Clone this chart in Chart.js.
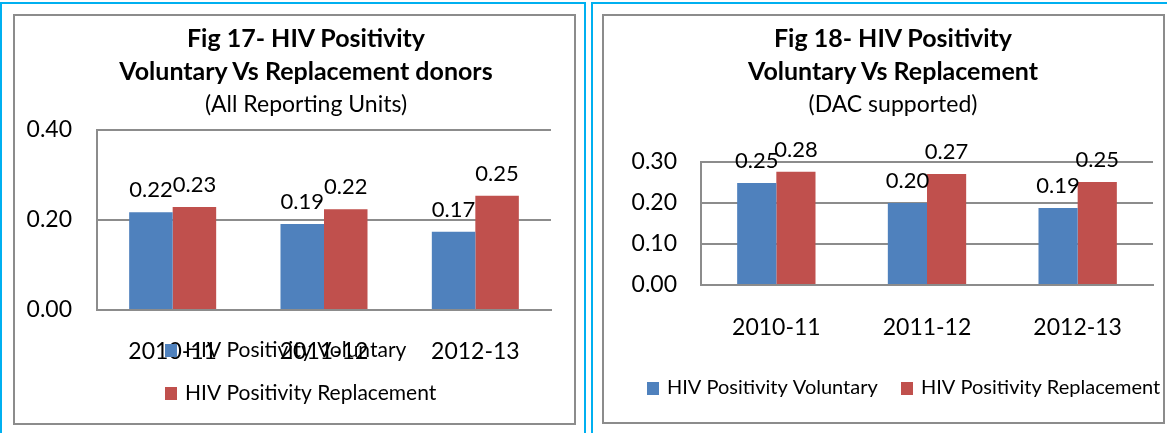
<!DOCTYPE html>
<html>
<head>
<meta charset="utf-8">
<script src="https://cdn.jsdelivr.net/npm/chart.js@4.4.1/dist/chart.umd.min.js"></script>
<style>
  body { margin: 0; width: 1167px; height: 433px; overflow: hidden; background: #fff; position: relative;
         font-family: Lato, "Open Sans", sans-serif; color: #000; }
  .outer { position: absolute; top: 2px; height: 440px; border: 2px solid #00b0f0; }
  .inner { position: absolute; top: 14px; border: 2px solid #8c8c8c; }
  .inner canvas { display: block; }
  /* Excel put the titles a little right of the box centre, so they are laid out here */
  .title { position: absolute; top: 21px; width: 420px; text-align: center;
           font-size: 25px; font-weight: bold; line-height: 33px; white-space: nowrap; }
  .title .sub { font-size: 23px; font-weight: normal; }
</style>
</head>
<body>
<div class="outer" style="left:0;width:582px"></div>
<div class="outer" style="left:591px;width:600px"></div>
<div class="inner" style="left:13px;width:559px;height:407px"><canvas id="fig17" width="559" height="407"></canvas></div>
<div class="inner" style="left:602px;width:559px;height:406px"><canvas id="fig18" width="559" height="406"></canvas></div>

<div class="title" style="left:96px">Fig 17- HIV Positivity<br>Voluntary Vs Replacement donors<div class="sub">(All Reporting Units)</div></div>
<div class="title" style="left:683px">Fig 18- HIV Positivity<br>Voluntary Vs Replacement<div class="sub">(DAC supported)</div></div>

<script>
// Data
const years = ['2010-11', '2011-12', '2012-13'];
const seriesNames = ['HIV Positivity Voluntary', 'HIV Positivity Replacement'];

// Fig 17 - all reporting units
const allVoluntary = [0.217, 0.191, 0.174];
const allReplacement = [0.229, 0.224, 0.254];

// Fig 18 - DAC supported
const dacVoluntary = [0.249, 0.200, 0.188];
const dacReplacement = [0.276, 0.271, 0.251];

const FONT = 'Lato, "Open Sans", sans-serif';

// Plugin: value written above every bar
const barValueLabels = {
  id: 'barValueLabels',
  afterDatasetsDraw(chart, args, opts) {
    const ctx = chart.ctx;
    ctx.save();
    ctx.font = opts.font;
    ctx.fillStyle = '#000';
    ctx.textAlign = 'center';
    ctx.textBaseline = 'middle';
    chart.data.datasets.forEach((ds, i) => {
      chart.getDatasetMeta(i).data.forEach((bar, j) => {
        ctx.fillText(ds.data[j].toFixed(2), bar.x, bar.y - opts.offset);
      });
    });
    ctx.restore();
  }
};

// Plugin: Excel style legend with square swatches at fixed spots
const boxLegend = {
  id: 'boxLegend',
  afterDraw(chart, args, opts) {
    const ctx = chart.ctx;
    ctx.save();
    ctx.font = opts.font;
    ctx.textAlign = 'left';
    ctx.textBaseline = 'middle';
    chart.data.datasets.forEach((ds, i) => {
      const pos = opts.items[i];
      ctx.fillStyle = ds.backgroundColor;
      ctx.fillRect(pos.x, pos.y - 6, 12, 13);
      ctx.fillStyle = '#000';
      ctx.fillText(ds.label, pos.x + opts.gap, pos.y);
    });
    ctx.restore();
  }
};

function makeChart(id, voluntary, replacement, yMax, yStep, cfg) {
  const tickFont = { family: FONT, size: 23 };
  return new Chart(document.getElementById(id), {
    type: 'bar',
    data: {
      labels: years,
      datasets: [
        { label: seriesNames[0], data: voluntary, backgroundColor: '#4f81bd',
          categoryPercentage: cfg.groupWidth, barPercentage: 1 },
        { label: seriesNames[1], data: replacement, backgroundColor: '#c0504d',
          categoryPercentage: cfg.groupWidth, barPercentage: 1 }
      ]
    },
    plugins: [barValueLabels, boxLegend],
    options: {
      responsive: false,
      animation: false,
      devicePixelRatio: 1,
      layout: { padding: { left: 0, top: cfg.top, right: cfg.right, bottom: cfg.bottom } },
      plugins: {
        legend: { display: false },
        tooltip: { enabled: false },
        barValueLabels: { font: '22px ' + FONT, offset: 22 },
        boxLegend: { font: cfg.legendSize + 'px ' + FONT, gap: 20, items: cfg.legend }
      },
      scales: {
        x: {
          grid: { display: false, drawTicks: false },
          border: { display: true, color: '#8c8c8c', width: 2 },
          ticks: { color: '#000', font: tickFont, padding: cfg.xPad },
          afterFit: s => { s.height = 60; }
        },
        y: {
          min: 0,
          max: yMax,
          grid: { color: '#8c8c8c', lineWidth: 2, drawTicks: false },
          border: { display: true, color: '#8c8c8c', width: 2 },
          ticks: {
            stepSize: yStep,
            color: '#000',
            font: tickFont,
            padding: cfg.yPad,
            callback: v => v.toFixed(2)
          },
          afterFit: s => { s.width = cfg.yWidth; }
        }
      }
    }
  });
}

makeChart('fig17', allVoluntary, allReplacement, 0.4, 0.2,
  { groupWidth: 0.575, top: 114, right: 23, bottom: 53, xPad: 28, yPad: 25, yWidth: 82,
    legendSize: 21, legend: [{ x: 150, y: 334 }, { x: 150, y: 377 }] });

makeChart('fig18', dacVoluntary, dacReplacement, 0.3, 0.1,
  { groupWidth: 0.52, top: 146, right: 10, bottom: 77, xPad: 29, yPad: 24, yWidth: 97,
    legendSize: 20, legend: [{ x: 43, y: 372 }, { x: 297, y: 372 }] });
</script>
</body>
</html>
